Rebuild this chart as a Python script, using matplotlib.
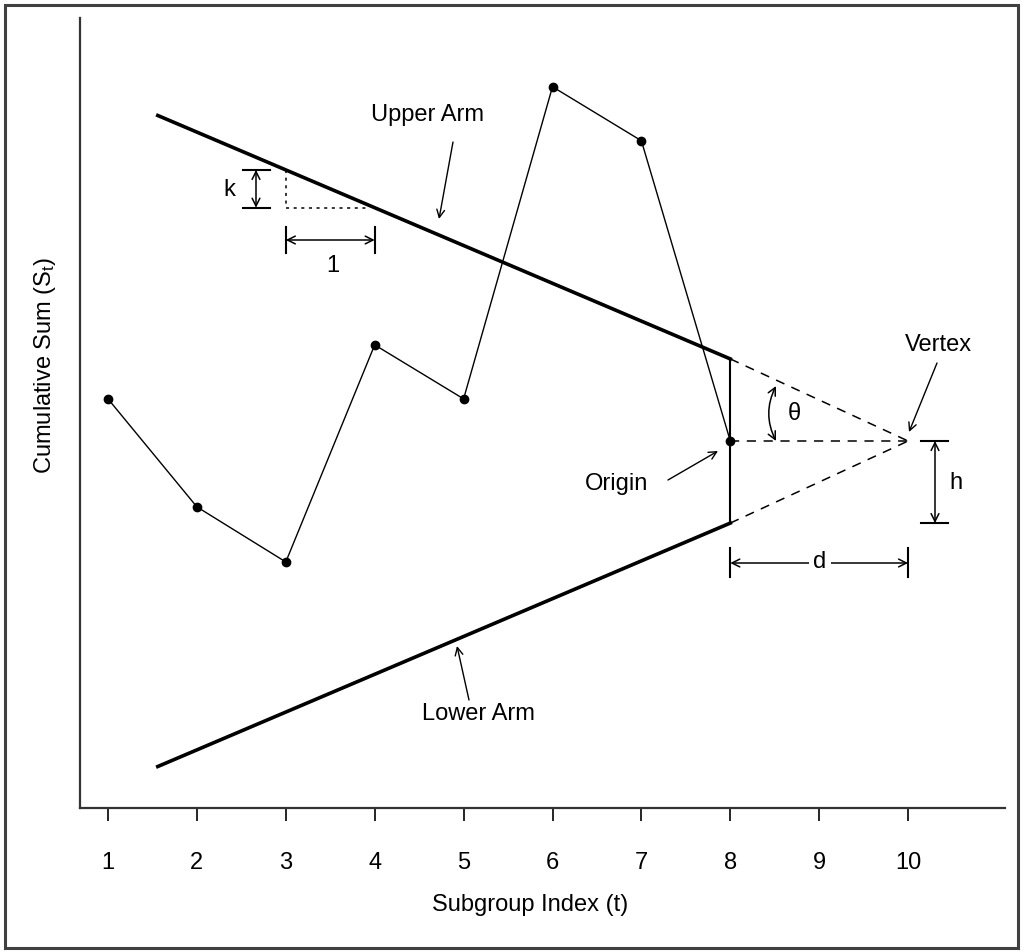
import matplotlib
matplotlib.use('Agg')
import matplotlib.pyplot as plt
from matplotlib.patches import Rectangle

plt.rcParams['font.family'] = ['Liberation Sans', 'DejaVu Sans']
plt.rcParams['mathtext.fontset'] = 'custom'
plt.rcParams['mathtext.rm'] = 'Liberation Sans'
plt.rcParams['mathtext.it'] = 'Liberation Sans'

# cumulative sums per subgroup
t = [1, 2, 3, 4, 5, 6, 7, 8]
cusum = [0.78, -1.22, -2.24, 1.78, 0.78, 6.56, 5.56, 0.0]

# V-mask parameters
origin_t = 8
d = 2
h = 1.52
k = 0.7
arm_start = 1.56
xticks = [1, 2, 3, 4, 5, 6, 7, 8, 9, 10]

vertex_t = origin_t + d
S0 = cusum[-1]
FS = 17


def upper(x):
    return S0 + h + k * (origin_t - x)


def lower(x):
    return S0 - h - k * (origin_t - x)


def P(px, py):
    # pixel position of the reference -> data coords (layout helper)
    return 1 + (px - 108) / 88.9, (441 - py) / 54


fig = plt.figure(figsize=(10.24, 9.52), dpi=100)
ax = fig.add_axes([80 / 1024, 1 - 808 / 952, 925 / 1024, 790 / 952])
ax.set_xlim(P(80, 0)[0], P(1005, 0)[0])
ax.set_ylim(P(0, 808)[1], P(0, 18)[1])

fig.patches.append(Rectangle((5 / 1024, 4 / 952), 1013 / 1024, 943 / 952,
                             transform=fig.transFigure, fill=False,
                             edgecolor='#404040', linewidth=2.2))

# data
ax.plot(t, cusum, color='black', linewidth=1.0, marker='o', markersize=6)

# arms
ax.plot([arm_start, origin_t], [upper(arm_start), upper(origin_t)], color='black', linewidth=2.6)
ax.plot([arm_start, origin_t], [lower(arm_start), lower(origin_t)], color='black', linewidth=2.6)
ax.plot([origin_t, origin_t], [lower(origin_t), upper(origin_t)], color='black', linewidth=1.5)

# dashed extension to vertex
dash = dict(color='black', linewidth=1.1, linestyle=(0, (6, 5)))
ax.plot([origin_t, vertex_t], [upper(origin_t), S0], **dash)
ax.plot([origin_t, vertex_t], [S0, S0], **dash)
ax.plot([origin_t, vertex_t], [lower(origin_t), S0], **dash)

# slope triangle (k per 1)
dot = dict(color='black', linewidth=1.1, linestyle=(0, (2, 3)))
ax.plot([3, 3], [upper(3), upper(4)], **dot)
ax.plot([3, 3.92], [upper(4), upper(4)], **dot)

arw = dict(arrowstyle='<->', color='black', linewidth=1.1, shrinkA=0, shrinkB=0, mutation_scale=14)
cap = dict(color='black', linewidth=1.5)

# k marker
kx = P(256, 0)[0]
ax.annotate('', xy=(kx, upper(3)), xytext=(kx, upper(4)), arrowprops=arw)
ax.plot([P(243, 0)[0], P(270, 0)[0]], [upper(3), upper(3)], **cap)
ax.plot([P(243, 0)[0], P(270, 0)[0]], [upper(4), upper(4)], **cap)
ax.text(*P(229, 190), 'k', fontsize=FS, ha='center', va='center')

# 1 marker
oy = P(0, 240)[1]
ax.annotate('', xy=(3, oy), xytext=(4, oy), arrowprops=arw)
ax.plot([3, 3], [P(0, 227)[1], P(0, 253)[1]], **cap)
ax.plot([4, 4], [P(0, 227)[1], P(0, 253)[1]], **cap)
ax.text(*P(333, 266), '1', fontsize=FS, ha='center', va='center')

# h marker
hx = P(935, 0)[0]
ax.annotate('', xy=(hx, S0), xytext=(hx, lower(origin_t)), arrowprops=arw)
ax.plot([P(921, 0)[0], P(948, 0)[0]], [S0, S0], **cap)
ax.plot([P(921, 0)[0], P(948, 0)[0]], [lower(origin_t), lower(origin_t)], **cap)
ax.text(*P(956, 483), 'h', fontsize=FS, ha='center', va='center')

# d marker
dy = P(0, 563)[1]
ax.annotate('', xy=(origin_t, dy), xytext=(vertex_t, dy), arrowprops=arw)
ax.plot([origin_t, origin_t], [P(0, 548)[1], P(0, 577)[1]], **cap)
ax.plot([vertex_t, vertex_t], [P(0, 548)[1], P(0, 577)[1]], **cap)
ax.text(*P(820, 562), 'd', fontsize=FS, ha='center', va='center',
        bbox=dict(facecolor='white', edgecolor='none', pad=3))

# theta marker
thx = P(776, 0)[0]
ax.annotate('', xy=(thx, P(0, 386)[1]), xytext=(thx, S0),
            arrowprops=dict(arw, connectionstyle='arc3,rad=-0.25'))
ax.text(*P(794, 414), 'θ', fontsize=FS, ha='center', va='center')

# labels with pointers
ptr = dict(arrowstyle='->', color='black', linewidth=1.0, shrinkA=0, shrinkB=0, mutation_scale=14)
ax.text(*P(428, 115), 'Upper Arm', fontsize=FS, ha='center', va='center')
ax.annotate('', xy=P(439, 219), xytext=P(453, 142), arrowprops=ptr)
ax.text(*P(478, 714), 'Lower Arm', fontsize=FS, ha='center', va='center')
ax.annotate('', xy=P(457, 646), xytext=P(469, 700), arrowprops=ptr)
ax.text(*P(617, 484), 'Origin', fontsize=FS, ha='center', va='center')
ax.annotate('', xy=P(718, 451), xytext=P(668, 480), arrowprops=ptr)
ax.text(*P(938, 345), 'Vertex', fontsize=FS, ha='center', va='center')
ax.annotate('', xy=P(909, 432), xytext=P(937, 363), arrowprops=ptr)

# axes styling
for s in ['top', 'right']:
    ax.spines[s].set_visible(False)
for s in ['left', 'bottom']:
    ax.spines[s].set_linewidth(1.6)
    ax.spines[s].set_color('#333333')
ax.set_xticks(xticks)
ax.set_yticks([])
ax.tick_params(axis='x', direction='out', length=9, width=1.2, pad=23, labelsize=FS)
fig.text(530 / 1024, 1 - 905 / 952, 'Subgroup Index (t)', fontsize=FS, ha='center', va='center')
fig.text(45 / 1024, 1 - 365 / 952, 'Cumulative Sum (S$_t$)', fontsize=FS,
         ha='center', va='center', rotation=90)

fig.savefig('out.png', dpi=100)
